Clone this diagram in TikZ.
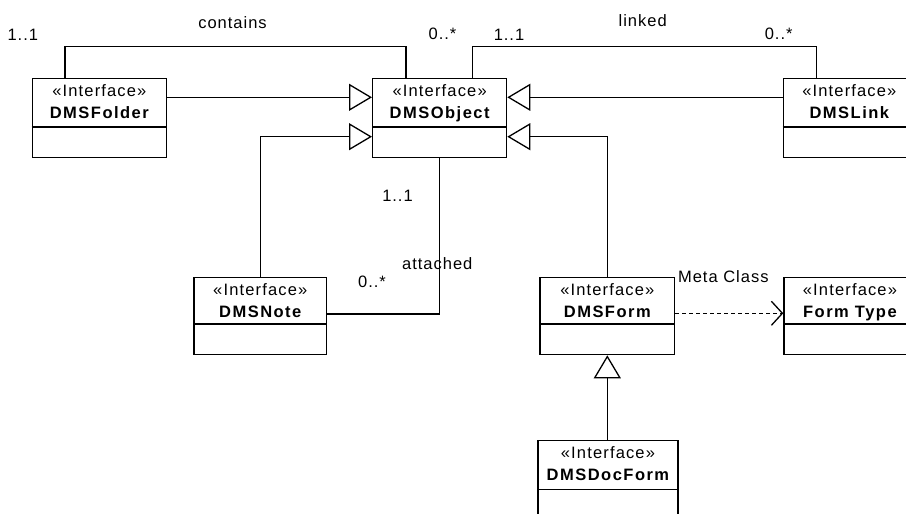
\documentclass[tikz,border=0pt]{standalone}
\usepackage{fontspec}
\setmainfont{Liberation Sans}
\usetikzlibrary{arrows.meta}
\begin{document}
\begin{tikzpicture}[x=1pt,y=-1pt,
  lw/.style={line width=1.3pt},
  umlbox/.style={draw,lw,rectangle,inner sep=0pt,anchor=north west},
  stereo/.style={inner sep=0pt,anchor=base,font=\fontsize{16.5}{19}\selectfont\addfontfeatures{LetterSpace=7}},
  cname/.style={inner sep=0pt,anchor=base,font=\fontsize{16.5}{19}\selectfont\bfseries\addfontfeatures{LetterSpace=9}},
  lbl/.style={inner sep=0pt,font=\fontsize{16.5}{19}\selectfont\addfontfeatures{LetterSpace=6}},
  gen/.style={lw,-{Triangle[open,length=23pt,width=27pt]}},
  dep/.style={lw,dash pattern=on 4pt off 3pt,-{Straight Barb[length=11pt,width=24pt,line width=1.3pt]}},
  assoc/.style={lw}
]
\useasboundingbox (0,0) rectangle (906,514);
\begin{scope}
\clip (0,0) rectangle (906,514);
% boxes
\node[umlbox,minimum width=134pt,minimum height=79.3pt] (fold) at (31.7,77.7) {};
\node[umlbox,minimum width=134pt,minimum height=79.3pt] (obj) at (372,77.7) {};
\node[umlbox,minimum width=132pt,minimum height=79.3pt] (link) at (782.7,77.7) {};
\node[umlbox,minimum width=132.7pt,minimum height=77.3pt] (note) at (193.3,276.7) {};
\node[umlbox,minimum width=134.7pt,minimum height=77.3pt] (form) at (539.3,276.7) {};
\node[umlbox,minimum width=132pt,minimum height=77.3pt] (ftype) at (783.3,276.7) {};
\node[umlbox,minimum width=140pt,minimum height=79pt] (doc) at (537.3,440) {};
% dividers
\foreach \b/\y in {fold/127,obj/127,link/127,note/324,form/324,ftype/324,doc/489.3}
  \draw[lw] (\b.west |- 0,\y) -- (\b.east |- 0,\y);
% texts
\foreach \b/\n in {fold/DMSFolder,obj/DMSObject,link/DMSLink,note/DMSNote,form/DMSForm,ftype/Form Type,doc/DMSDocForm}{
  \node[stereo] (\b-st) at ([yshift=-18.8pt]\b.north) {«Interface»};
  \node[cname] (\b-nm) at ([yshift=-40.8pt]\b.north) {\n};
}
% associations
\draw[assoc] ([xshift=33.3pt]fold.north west) -- ++(0,-31.4) -| ([xshift=34pt]obj.north west);
\draw[assoc] ([xshift=100.7pt]obj.north west) -- ++(0,-31.4) -| ([xshift=34pt]link.north west);
\draw[assoc] (obj.south) |- (note.east |- 0,314);
% generalizations
\draw[gen] (fold.east |- 0,97.3) -- (obj.west |- 0,97.3);
\draw[gen] (link.west |- 0,97.3) -- (obj.east |- 0,97.3);
\draw[gen] (note.north) |- (obj.west |- 0,136.7);
\draw[gen] (form.north) |- (obj.east |- 0,136.7);
\draw[gen] (doc.north -| form.south) -- (form.south);
% dependency
\draw[dep] (form.east |- 0,313.3) -- (ftype.west |- 0,313.3);
\end{scope}
% labels
\node[lbl] (l1) at (232.5,22.5) {contains};
\node[lbl] (l2) at (22.8,35) {1..1};
\node[lbl] (l3) at (442.5,34) {0..*};
\node[lbl] (l4) at (642.7,21) {linked};
\node[lbl] (l5) at (509,34.5) {1..1};
\node[lbl] (l6) at (778.7,34) {0..*};
\node[lbl] (l7) at (397.5,196) {1..1};
\node[lbl] (l8) at (437.3,264) {attached};
\node[lbl] (l9) at (372,281.7) {0..*};
\node[lbl] (l10) at (723.3,277) {Meta Class};
\end{tikzpicture}
\end{document}
